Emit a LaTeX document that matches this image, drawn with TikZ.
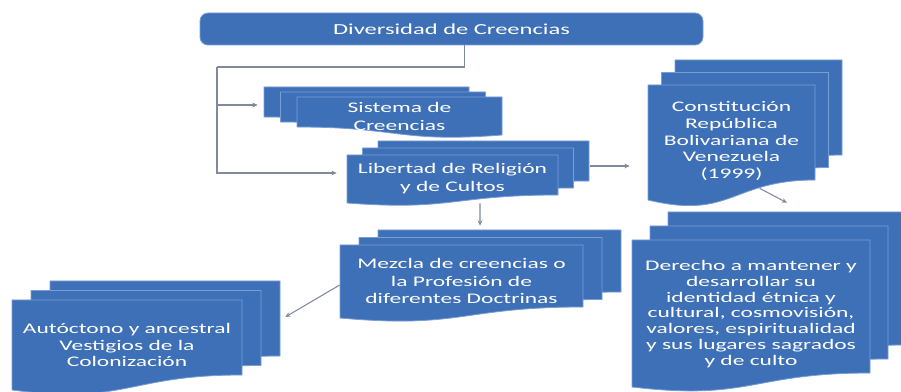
\documentclass[tikz,border=0pt]{standalone}
\usepackage{fontspec}
\setmainfont{Carlito}[FakeStretch=1.6]
\usetikzlibrary{arrows.meta}

\definecolor{docblue}{RGB}{62,112,184}
\definecolor{docedge}{RGB}{120,158,210}
\definecolor{linkgray}{RGB}{128,138,158}

\tikzset{
    layer/.style={fill=docblue, draw=docedge, line width=0.6pt},
    topbox/.style={rounded corners=6pt, fill=docblue, draw=docedge, line width=0.6pt, text=white, font=\fontsize{11.5}{14}\selectfont},
    doctext/.style={text=white, align=center, inner sep=0pt},
    link/.style={draw=linkgray, line width=0.8pt, -{Stealth[length=4pt,width=3.5pt]}},
    trunk/.style={draw=linkgray, line width=0.8pt}
}

\newcommand{\multidoc}[7]{%
    \foreach \k in {2,1,0}{%
        \draw[layer] ({#1+\k*#6},{#2+\k*#7}) -- ({#3+\k*#6},{#2+\k*#7}) -- ({#3+\k*#6},{#5+\k*#7})
            .. controls ({(#1+#3)/2+\k*#6},{#5+\k*#7}) and ({(#1+#3)/2+\k*#6},{2*#4-#5+\k*#7}) .. ({#1+\k*#6},{#4+\k*#7}) -- cycle;
    }}

\begin{document}
\begin{tikzpicture}[x=0.75pt,y=-0.75pt]
    \useasboundingbox (0,0) rectangle (901,392);

    \begin{scope}[xscale=-1]
        \multidoc{-502}{97}{-297}{135}{127}{16.5}{-5}
    \end{scope}
    \multidoc{347}{155}{558}{203}{195}{15.5}{-7}
    \multidoc{648}{85}{815}{200}{180}{13.5}{-12.5}
    \multidoc{632}{240}{870}{387}{373}{18}{-14}
    \multidoc{340}{245}{583}{318}{307}{19}{-7.5}
    \multidoc{12}{300}{242}{390}{375}{19}{-9.5}

    \node[topbox, minimum width=377.25pt, minimum height=24pt] (div) at (451.5,29) {Diversidad de Creencias};
    \node[doctext, minimum width=153.75pt, minimum height=28.5pt, font=\fontsize{11}{13.5}\selectfont] (sis) at (399.5,116) {Sistema de\\Creencias};
    \node[doctext, minimum width=158.25pt, minimum height=36pt, font=\fontsize{11}{13.5}\selectfont] (lib) at (452.5,179) {Libertad de Religión\\y de Cultos};
    \node[doctext, minimum width=125.25pt, minimum height=84pt, font=\fontsize{11}{12.4}\selectfont] (con) at (731.5,141) {Constitución\\República\\Bolivariana de\\Venezuela\\(1999)};
    \node[doctext, minimum width=178.5pt, minimum height=111pt, font=\fontsize{11}{11.85}\selectfont] (der) at (751,314) {Derecho a mantener y\\desarrollar su\\identidad étnica y\\cultural, cosmovisión,\\valores, espiritualidad\\y sus lugares sagrados\\y de culto};
    \node[doctext, minimum width=182.25pt, minimum height=54pt, font=\fontsize{11}{13}\selectfont] (mez) at (461.5,281) {Mezcla de creencias o\\la Profesión de\\diferentes Doctrinas};
    \node[doctext, minimum width=172.5pt, minimum height=67.5pt, font=\fontsize{11}{12.4}\selectfont] (aut) at (127,345) {Autóctono y ancestral\\Vestigios de la\\Colonización};

    \coordinate (fork) at (217,67);
    \draw[trunk] ([xshift=9.5pt]div.south) |- (fork);
    \draw[link, shorten >=29.25pt] (fork) |- ([yshift=8.25pt]sis.west);
    \draw[link, shorten >=7.5pt] (fork) |- ([yshift=4.5pt]lib.west);
    \draw[link, shorten >=13.5pt] ([xshift=24pt,yshift=9.75pt]lib.east) -- ([yshift=-18.75pt]con.west);
    \draw[link] ([xshift=21pt,yshift=6.75pt]con.south) -- ([xshift=27pt,yshift=27.75pt]der.north);
    \draw[link] ([xshift=20.6pt]lib.south) -- ([xshift=13.9pt,yshift=14.25pt]mez.north);
    \draw[link] ([yshift=-3pt]mez.west) -- ([xshift=32.25pt,yshift=21pt]aut.east);
\end{tikzpicture}
\end{document}
